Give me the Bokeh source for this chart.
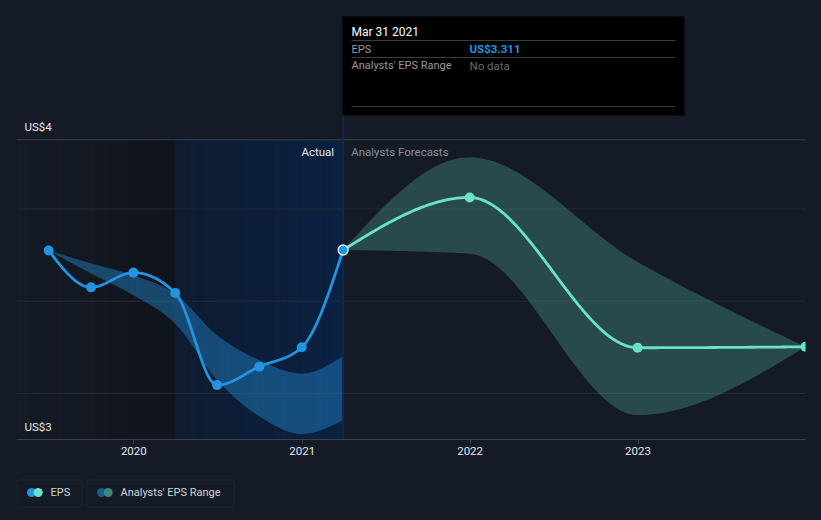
import numpy as np
from datetime import datetime
from bokeh.plotting import figure
from bokeh.layouts import column
from bokeh.models import Range1d, FixedTicker, DatetimeTickFormatter, Span, BoxAnnotation, Label
from bokeh.embed import file_html
from bokeh.resources import INLINE

# ---------------- data ----------------
eps_dates = ["2019-06-30", "2019-09-30", "2019-12-31", "2020-03-31",
             "2020-06-30", "2020-09-30", "2020-12-31", "2021-03-31"]
eps_values = [3.310, 3.230, 3.262, 3.218, 3.018, 3.058, 3.100, 3.311]
past_range_low = [3.310, 3.260, 3.213, 3.151, 3.029, 2.950, 2.912, 2.942]
past_range_high = [3.310, 3.282, 3.256, 3.216, 3.126, 3.072, 3.043, 3.081]

forecast_dates = ["2021-03-31", "2021-12-31", "2022-12-31", "2023-12-31"]
forecast_values = [3.311, 3.425, 3.099, 3.101]
forecast_low = [3.311, 3.303, 2.953, 3.101]
forecast_high = [3.311, 3.512, 3.285, 3.101]

year_ticks = ["2020-01-01", "2021-01-01", "2022-01-01", "2023-01-01"]
grid_values = [3.0, 3.2, 3.4]
y_axis_min = 2.90
y_axis_max = 3.55
y_axis_labels = ["US$3", "US$4"]
x_axis_start = "2019-04-21"
x_axis_end = "2023-12-31"
last_12m_start = "2020-03-31"
hover_date = "2021-03-31"
tooltip_title = "Mar 31 2021"
tooltip_rows = ["EPS", "Analysts' EPS Range"]
tooltip_values = ["US$3.311", "No data"]
section_labels = ["Actual", "Analysts Forecasts"]
legend_labels = ["EPS", "Analysts' EPS Range"]

# ---------------- style ----------------
BG = "#151b26"
BLUE = "#2394df"
TEAL = "#68e2cd"
FONT = "Roboto"
FRAME_L, FRAME_W, FRAME_H, TOP_GAP = 16, 789, 439, 139.3
FRAME_R = 821 - FRAME_L - FRAME_W


def ms(s):
    return (datetime.fromisoformat(s) - datetime(1970, 1, 1)).total_seconds() * 1000.0


def monotone(xs, ys, n=40):
    """Monotone cubic (d3 curveMonotoneX) sampling of a polyline."""
    x = np.asarray(xs, float)
    y = np.asarray(ys, float)
    h = np.diff(x)
    s = np.diff(y) / h
    m = np.zeros_like(y)
    sg = lambda v: -1.0 if v < 0 else 1.0
    for i in range(1, len(y) - 1):
        p = (s[i - 1] * h[i] + s[i] * h[i - 1]) / (h[i - 1] + h[i])
        m[i] = (sg(s[i - 1]) + sg(s[i])) * min(abs(s[i - 1]), abs(s[i]), 0.5 * abs(p))
    if len(y) > 2:
        m[0] = (3 * s[0] - m[1]) / 2
        m[-1] = (3 * s[-1] - m[-2]) / 2
    else:
        m[0] = m[-1] = s[0]
    ox, oy = [], []
    for i in range(len(h)):
        t = np.linspace(0, 1, n, endpoint=(i == len(h) - 1))
        h00 = 2 * t**3 - 3 * t**2 + 1
        h10 = t**3 - 2 * t**2 + t
        h01 = -2 * t**3 + 3 * t**2
        h11 = t**3 - t**2
        ox.append(x[i] + t * h[i])
        oy.append(h00 * y[i] + h10 * h[i] * m[i] + h01 * y[i + 1] + h11 * h[i] * m[i + 1])
    return np.concatenate(ox), np.concatenate(oy)


def hex2rgb(h):
    h = h.lstrip("#")
    return np.array([int(h[i:i + 2], 16) for i in (0, 2, 4)], float)


def gradient_quads(fig, x0, x1, c0, c1, bottom, top, steps=24):
    edges = np.linspace(x0, x1, steps + 1)
    a, b = hex2rgb(c0), hex2rgb(c1)
    cols = []
    for k in range(steps):
        c = a + (b - a) * (k + 0.5) / steps
        cols.append("#%02x%02x%02x" % tuple(int(round(v)) for v in c))
    rr = fig.quad(left=edges[:-1], right=edges[1:] + (edges[1] - edges[0]) * 0.02,
                  bottom=[bottom] * steps, top=[top] * steps,
                  fill_color=cols, line_color=None)
    rr.level = "image"


x_start, x_end = ms(x_axis_start), ms(x_axis_end)
y_start = y_axis_min
y_end = y_axis_max + (y_axis_max - y_axis_min) * TOP_GAP / (FRAME_H - TOP_GAP)


def px_x(px):
    return x_start + (px - FRAME_L) / FRAME_W * (x_end - x_start)


def px_y(py):
    return y_end - py / FRAME_H * (y_end - y_start)


p = figure(width=821, height=470, x_axis_type="datetime",
           x_range=Range1d(x_start, x_end), y_range=Range1d(y_start, y_end),
           y_axis_location=None, output_backend="svg", toolbar_location=None,
           min_border_left=FRAME_L, min_border_right=FRAME_R,
           min_border_top=0, min_border_bottom=470 - FRAME_H)
p.background_fill_color = BG
p.border_fill_color = BG
p.outline_line_color = None
p.styles = {"background-color": BG}
p.grid.visible = False
for g_ in p.grid:
    g_.grid_line_color = None

# background regions (past, last twelve months)
gradient_quads(p, x_start, ms(last_12m_start), BG, "#10141b", y_axis_min, y_axis_max)
gradient_quads(p, ms(last_12m_start), ms(hover_date), "#0f1b30", "#0b2143", y_axis_min, y_axis_max)

# grid lines
for g in grid_values:
    p.add_layout(Span(location=g, dimension="width", line_color="#272d38", line_width=1, level="underlay"))
p.add_layout(Span(location=y_axis_max, dimension="width", line_color="#3b404a", line_width=1, level="underlay"))

# bands
ex = [ms(d) for d in eps_dates]
fx = [ms(d) for d in forecast_dates]
bx, blo = monotone(ex, past_range_low)
_, bhi = monotone(ex, past_range_high)
p.varea(x=bx, y1=blo, y2=bhi, fill_color=BLUE, fill_alpha=0.4)
fbx, flo = monotone(fx, forecast_low)
_, fhi = monotone(fx, forecast_high)
p.varea(x=fbx, y1=flo, y2=fhi, fill_color="#51a498", fill_alpha=0.35)

# hover line
p.segment(x0=[ms(hover_date)], y0=[y_start], x1=[ms(hover_date)], y1=[px_y(115)],
          line_color="#10284c", line_width=2)

# lines
lx, ly = monotone(ex, eps_values)
p.line(lx, ly, line_color=BLUE, line_width=2.8)
flx, fly = monotone(fx, forecast_values)
p.line(flx, fly, line_color=TEAL, line_width=2.8)
p.scatter(ex[:-1], eps_values[:-1], size=10, fill_color=BLUE, line_color=None)
p.scatter(fx[1:], forecast_values[1:], size=10, fill_color=TEAL, line_color=None)
p.scatter(ex[-1:], eps_values[-1:], size=10, fill_color=BLUE, line_color="#e8eef5", line_width=1.3)

# x axis
xa = p.xaxis[0]
xa.ticker = FixedTicker(ticks=[ms(t) for t in year_ticks])
xa.formatter = DatetimeTickFormatter(years="%Y", months="%Y", days="%Y", hours="%Y",
                                     minutes="%Y", seconds="%Y", milliseconds="%Y")
xa.axis_line_color = "#3b404a"
xa.major_tick_line_color = "#3b404a"
xa.major_tick_out = 4
xa.major_tick_in = 0
xa.minor_tick_line_color = None
xa.major_label_standoff = 3
xa.major_label_text_color = "#e6e6e6"
xa.major_label_text_font = FONT
xa.major_label_text_font_size = "11.5px"

# y labels (top / bottom of range)
for val, txt in zip([y_axis_min, y_axis_max], y_axis_labels):
    p.add_layout(Label(x=px_x(24), y=val + (y_end - y_start) * 12.6 / FRAME_H, text=txt,
                       text_color="#e6e6e6", text_font=FONT, text_font_size="11.5px",
                       text_baseline="middle", text_align="left"))

# section labels
dpx = (x_end - x_start) / FRAME_W
p.add_layout(Label(x=ms(hover_date) - 9 * dpx, y=px_y(151), text=section_labels[0],
                   text_color="#e6e6e6", text_font=FONT, text_font_size="11.5px",
                   text_baseline="middle", text_align="right"))
p.add_layout(Label(x=ms(hover_date) + 8 * dpx, y=px_y(151), text=section_labels[1],
                   text_color="#8a8f99", text_font=FONT, text_font_size="11.5px",
                   text_baseline="middle", text_align="left"))

# tooltip
p.add_layout(BoxAnnotation(left=px_x(342), right=px_x(684), top=px_y(16), bottom=px_y(115),
                           fill_color="#000000", fill_alpha=1.0, line_color=None, level="underlay"))
p.segment(x0=[px_x(351)] * 3, x1=[px_x(675)] * 3, y0=[px_y(40), px_y(57), px_y(106)],
          y1=[px_y(40), px_y(57), px_y(106)], line_color="#3d3d3d", line_width=1)
p.add_layout(Label(x=px_x(351), y=px_y(31), text=tooltip_title, text_color="#ffffff",
                   text_font=FONT, text_font_size="12px", text_font_style="normal",
                   text_baseline="middle"))
for i, (row, valtxt) in enumerate(zip(tooltip_rows, tooltip_values)):
    yy = px_y([48.5, 65][i])
    p.add_layout(Label(x=px_x(351), y=yy, text=row, text_color="#9a9a9a",
                       text_font=FONT, text_font_size="11px", text_baseline="middle"))
    p.add_layout(Label(x=px_x(469), y=yy, text=valtxt,
                       text_color=BLUE if i == 0 else "#6b6b6b",
                       text_font=FONT, text_font_size="11.5px",
                       text_font_style="bold" if i == 0 else "normal",
                       text_baseline="middle"))

# ---------------- legend strip (frame aligned with the chart: screen px) ----------------
lg = figure(width=821, height=50, x_range=Range1d(FRAME_L, 821 - FRAME_R), y_range=Range1d(0, 50),
            x_axis_location=None, y_axis_location=None, output_backend="svg",
            toolbar_location=None, min_border_left=FRAME_L, min_border_right=FRAME_R,
            min_border_top=0, min_border_bottom=0)
lg.background_fill_color = BG
lg.border_fill_color = BG
lg.outline_line_color = None
lg.styles = {"background-color": BG}
lg.grid.visible = False
for g_ in lg.grid:
    g_.grid_line_color = None
boxes = [(16.5, 81.5), (86.5, 233.5)]
icons = [((31, BLUE), (37.7, TEAL)), ((101, "#1d5a8a"), (107.7, "#3f857c"))]
text_x = [50, 120]
for (l, rr), ic, tx, lab in zip(boxes, icons, text_x, legend_labels):
    lg.add_layout(BoxAnnotation(left=l, right=rr, top=40.5, bottom=13.5, fill_color=None,
                                line_color="#3b404a", line_width=1, border_radius=3))
    lg.scatter([ic[0][0], ic[1][0]], [28, 28], size=9, fill_color=[ic[0][1], ic[1][1]], line_color=None)
    lg.add_layout(Label(x=tx, y=28, text=lab, text_color="#d0d3d8", text_font=FONT,
                        text_font_size="11px", text_baseline="middle"))

layout = column(p, lg, spacing=0, styles={"background-color": BG})
open("out.html", "w").write(file_html(layout, INLINE))
